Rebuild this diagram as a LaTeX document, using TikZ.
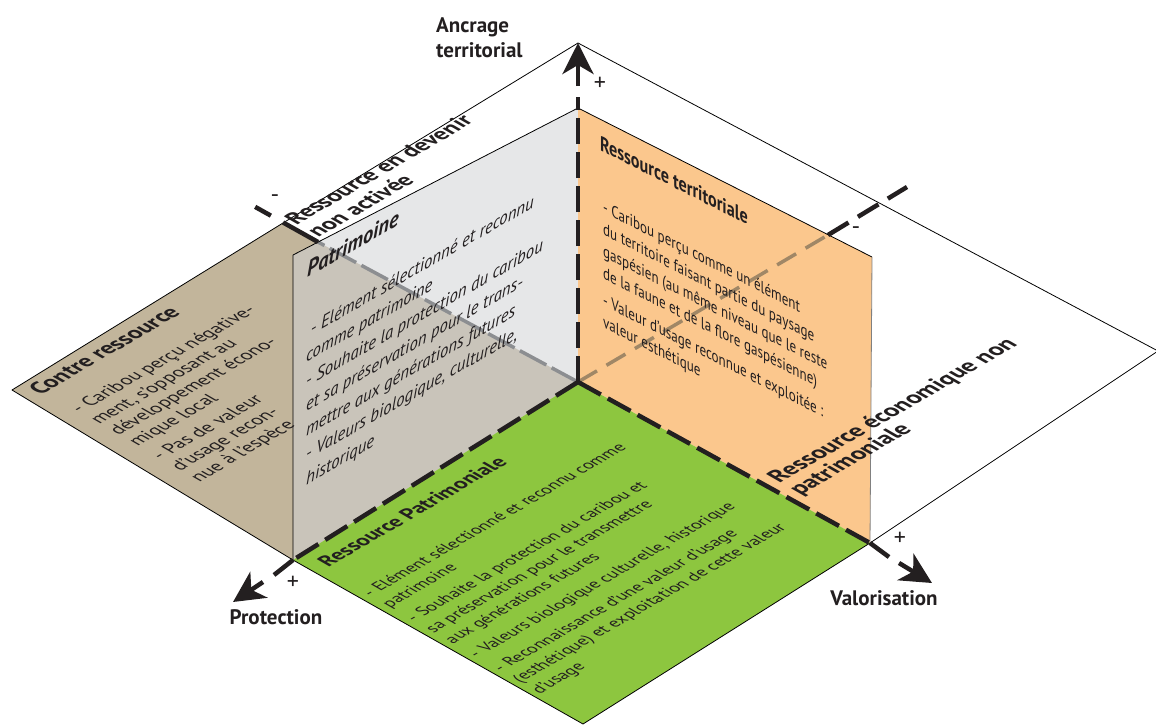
\documentclass[tikz,border=0pt]{standalone}
\usepackage{fontspec}
\setmainfont{PT Sans}
\usetikzlibrary{arrows.meta}
\definecolor{cbeige}{RGB}{194,181,155}
\definecolor{cgrayhi}{RGB}{230,231,232}
\definecolor{cgraylo}{RGB}{201,196,186}
\definecolor{corange}{RGB}{251,199,141}
\definecolor{cgreen}{RGB}{141,198,63}
\definecolor{cink}{RGB}{35,31,32}
\definecolor{chidgray}{RGB}{140,142,145}
\definecolor{chidbrown}{RGB}{160,135,102}
\tikzset{
  isoview/.style={x=1pt,y=-1pt,line join=round},
  thinedge/.style={black,line width=0.8pt},
  axisdash/.style={cink,line width=4.5pt,dash pattern=on 26pt off 8pt},
  axistip/.style={cink,line width=4.5pt,-{Stealth[length=31pt,width=31pt,inset=9pt]}},
  hiddenline/.style={line width=3.5pt,dash pattern=on 22pt off 11pt},
  floortxt/.style={cm={0.86,0.5,-0.87,0.5,(0,0)},anchor=north west,inner sep=0pt,align=left,text=cink},
  walltxt/.style={cm={0.93,0.535,0,1,(0,0)},anchor=north west,inner sep=0pt,align=left,text=cink},
  easttxt/.style={cm={0.77,-0.39,0,1,(0,0)},anchor=north west,inner sep=0pt,align=left,text=cink},
  headfont/.style={font=\bfseries\fontsize{21}{25}\selectfont},
  bodyfont/.style={font=\fontsize{17}{22}\selectfont},
  axislabel/.style={font=\bfseries\fontsize{21}{25}\selectfont,text=cink,inner sep=0pt},
  signmark/.style={font=\fontsize{24}{24}\selectfont,text=cink,inner sep=0pt},
}

\begin{document}
\begin{tikzpicture}[isoview]
    \useasboundingbox (0,0) rectangle (1156,725);
    % corners of the planes
    \coordinate (O)    at (578,382);
    \coordinate (apex) at (578,43);
    \coordinate (top)  at (578,108);
    \coordinate (P)    at (293,560);
    \coordinate (V)    at (870,543);
    \coordinate (B)    at (583,724);
    \coordinate (Gtl)  at (293,255);
    \coordinate (Gcut) at (318,242);
    \coordinate (Otr)  at (872,257);
    \coordinate (Cl)   at (12,390);
    \coordinate (Ct)   at (283,223);
    \coordinate (R)    at (1158,351);
    \coordinate (Ncut) at (828,235);
    \coordinate (Nend) at (907,187);
    \coordinate (Wend) at (250,204);
    % faces
    \fill[cbeige]  (Cl) -- (Ct) -- (O) -- (P) -- cycle;
    \fill[cgrayhi] (Gtl) -- (top) -- (O) -- (P) -- cycle;
    \fill[cgraylo] (Gtl) -- (Gcut) -- (O) -- (P) -- cycle;
    \fill[corange] (top) -- (Otr) -- (V) -- (O) -- cycle;
    \fill[cgreen]  (O) -- (V) -- (B) -- (P) -- cycle;
    % hidden parts of the axes
    \draw[hiddenline,chidgray,dash pattern=on 30pt off 6pt] (O) -- (Gcut);
    \draw[hiddenline,chidbrown] (O) -- (Ncut);
    % thin outlines
    \draw[thinedge] (Ct) -- (apex) -- (R) -- (V);
    \draw[thinedge] (Ct) -- (Cl) -- (P) -- (B) -- (V);
    \draw[thinedge] (P) -- (Gtl) -- (top) -- (Otr);
    \draw[gray,line width=0.8pt] (Otr) -- (V);
    % axes
    \draw[axisdash] (O) -- (P);
    \draw[axisdash] (O) -- (V);
    \draw[axisdash] (O) -- (578,97);
    \draw[axisdash,dash pattern=on 24pt off 11pt] (Ncut) -- (Nend);
    \draw[axisdash,dash pattern=on 40pt off 14pt on 18pt off 20pt] (Gcut) -- (Wend);
    \draw[axisdash,solid] (P) -- (274,575);
    \draw[axisdash,solid] (V) -- (889,557);
    \draw[axistip] (578,86) -- (apex);
    \draw[axistip] (263,582) -- (233,602);
    \draw[axistip] (899,563) -- (932,583);
    % signs
    \node[signmark] (plusup)    at (600,84)  {+};
    \node[signmark] (plusprot)  at (293,583) {+};
    \node[signmark] (plusval)   at (900,539) {+};
    \node[signmark] (minusval)  at (275,199) {-};
    \node[signmark] (minusprot) at (856,231) {-};
    % axis labels
    \node[axislabel,anchor=north west,align=left] (ancrage) at (436,17) {Ancrage\\territorial};
    \node[axislabel,anchor=base] (protection) at (276,624) {Protection};
    \node[axislabel,anchor=base] (valorisation) at (884,605) {Valorisation};
    % beige floor
    \node[floortxt,font=\bfseries\fontsize{23}{27}\selectfont] (contretitle) at (26,387) {Contre ressource};
    \node[floortxt,font=\fontsize{19}{22}\selectfont] (contrebody) at (68,407) {- Caribou perçu négative-\\ment, s'opposant au\\développement écono-\\mique local\\[5pt]- Pas de valeur\\d'usage recon-\\nue à l'espèce};
    % gray wall
    \node[walltxt,font=\bfseries\itshape\fontsize{22}{26}\selectfont] (patrtitle) at (307,262) {Patrimoine};
    \node[walltxt,font=\itshape\fontsize{18}{24.5}\selectfont] (patrbody) at (306,325) {\hspace{5pt}- Elément sélectionné et reconnu\\comme patrimoine\\- Souhaite la protection du caribou\\et sa préservation pour le trans-\\mettre aux générations futures\\- Valeurs biologique, culturelle,\\historique};
    % orange wall
    \node[easttxt,headfont] (terrtitle) at (600,135) {Ressource territoriale};
    \node[easttxt,font=\fontsize{17}{22}\selectfont] (terrbody) at (603,200) {- Caribou perçu comme un élément\\du territoire faisant partie du paysage\\gaspésien (au même niveau que le reste\\de la faune et de la flore gaspésienne)\\[5pt]- Valeur d'usage reconnue et exploitée :\\valeur esthétique};
    % green floor
    \node[floortxt,headfont] (pattitle) at (315,560) {Ressource Patrimoniale};
    \node[floortxt,font=\fontsize{17}{22}\selectfont] (patbody) at (360,591) {- Elément sélectionné et reconnu comme\\patrimoine\\[6pt]- Souhaite la protection du caribou et\\sa préservation pour le transmettre\\aux générations futures\\[6pt]- Valeurs biologique culturelle, historique\\[6pt]- Reconnaissance d'une valeur d'usage\\(esthétique) et exploitation de cette valeur\\d'usage};
    % white planes
    \node[floortxt,font=\bfseries\fontsize{23}{25}\selectfont] (devenir) at (282,217) {Ressource en devenir\\non activée};
    \node[floortxt,font=\bfseries\fontsize{24}{24}\selectfont] (economique) at (764,475) {Ressource économique non\\patrimoniale};
\end{tikzpicture}
\end{document}
